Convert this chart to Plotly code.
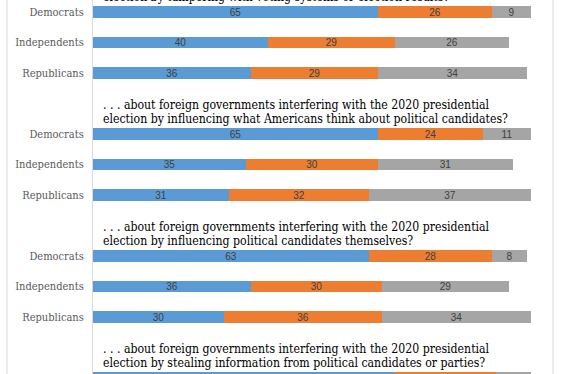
import plotly.graph_objects as go

# ---------------- data ----------------
questions = [
    ". . . about foreign governments interfering with the 2020 presidential<br>election by tampering with voting systems or election results?",
    ". . . about foreign governments interfering with the 2020 presidential<br>election by influencing what Americans think about political candidates?",
    ". . . about foreign governments interfering with the 2020 presidential<br>election by influencing political candidates themselves?",
    ". . . about foreign governments interfering with the 2020 presidential<br>election by stealing information from political candidates or parties?",
]
parties = ["Democrats", "Independents", "Republicans"]
series_names = ["Very/somewhat concerned", "Not too concerned", "Not at all concerned"]

# values per question: [Dem, Ind, Rep]
blue_vals = [[65, 40, 36], [65, 35, 31], [63, 36, 30], [69, None, None]]
orange_vals = [[26, 29, 29], [24, 30, 32], [28, 30, 36], [23, None, None]]
gray_vals = [[9, 26, 34], [11, 31, 37], [8, 29, 34], [8, None, None]]

# ---------------- layout constants ----------------
W, H = 563, 374
ML, MR = 93, 10
TOP_OFFSET, GROUP_STEP, ROW_STEP = 12, 122, 30.5
BAR_W = 11.5
PX_PER_UNIT = 4.38
XMAX = (W - ML - MR) / PX_PER_UNIT
LINE_GAP = 14

colors = ["#5B9BD5", "#ED7D31", "#A5A5A5"]
serif = "DejaVu Serif Condensed, Liberation Serif, serif"

ypos, labels = [], []
for g in range(len(questions)):
    for c, p in enumerate(parties):
        ypos.append(TOP_OFFSET + g * GROUP_STEP + c * ROW_STEP)
        labels.append(p)

def flat(v):
    return [x for grp in v for x in grp]

fig = go.Figure()
for name, vals, col in zip(series_names, [blue_vals, orange_vals, gray_vals], colors):
    fv = flat(vals)
    fig.add_trace(go.Bar(
        x=fv, y=ypos, orientation="h", name=name, width=BAR_W,
        marker=dict(color=col, line=dict(width=0)),
        text=[("" if v is None else str(v)) for v in fv],
        textposition="inside", insidetextanchor="middle", textangle=0,
        constraintext="none",
        textfont=dict(family="Liberation Sans, Arial", size=10, color="#404040"),
        hoverinfo="skip",
    ))

annotations = []
for g, q in enumerate(questions):
    dem_y = TOP_OFFSET + g * GROUP_STEP
    lines = q.split("<br>")
    for i, line in enumerate(lines):
        y_px = dem_y - 15 - LINE_GAP * (len(lines) - 1 - i)
        annotations.append(dict(
            text=line, xref="paper", yref="paper", x=8 / (W - ML - MR),
            y=1 - y_px / H,
            xanchor="left", yanchor="middle", align="left", showarrow=False,
            font=dict(family=serif, size=12.2, color="#000000"),
        ))

shapes = []
for px in [7, 553]:
    xp = (px - ML) / (W - ML - MR)
    shapes.append(dict(type="line", xref="paper", yref="paper", x0=xp, x1=xp, y0=0, y1=1,
                       line=dict(color="#D9D9D9", width=1)))

fig.update_layout(
    width=W, height=H, barmode="stack", showlegend=False,
    margin=dict(l=ML, r=MR, t=0, b=0, autoexpand=False),
    plot_bgcolor="white", paper_bgcolor="white",
    xaxis=dict(range=[0, XMAX], visible=False, fixedrange=True, automargin=False),
    yaxis=dict(range=[H, 0], tickvals=ypos, ticktext=labels, showgrid=False, zeroline=False,
               showline=True, linecolor="#D9D9D9", linewidth=1, ticks="",
               ticklabelstandoff=6, automargin=False,
               tickfont=dict(family=serif, size=11, color="#595959")),
    annotations=annotations, shapes=shapes,
    bargap=0,
)

fig.write_html("out.html", config={"displayModeBar": False},
               post_script="document.body.style.margin='0';document.body.style.overflow='hidden';")
